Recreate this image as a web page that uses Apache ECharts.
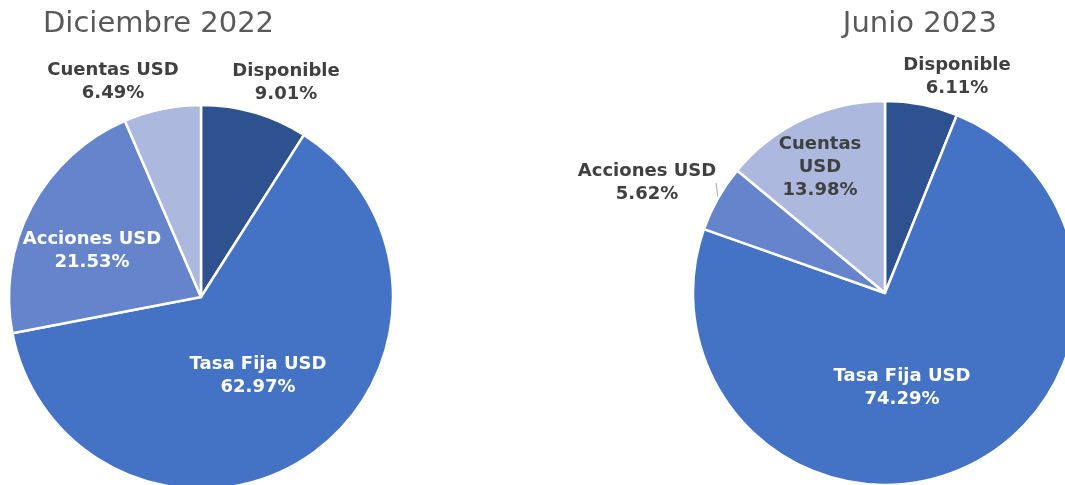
<!DOCTYPE html>
<html><head><meta charset="utf-8">
<script src="https://cdn.jsdelivr.net/npm/echarts@6/dist/echarts.min.js"></script>
<style>html,body{margin:0;padding:0;background:#fff}#c{width:1065px;height:485px}</style>
</head><body><div id="c"></div>
<script>
const categories = ['Disponible', 'Tasa Fija USD', 'Acciones USD', 'Cuentas USD'];
const labelTexts = ['Disponible', 'Tasa Fija USD', 'Acciones USD', 'Cuentas USD'];
const labelTextsJun = ['Disponible', 'Tasa Fija USD', 'Acciones USD', 'Cuentas\nUSD'];
const dec2022 = [9.01, 62.97, 21.53, 6.49];
const jun2023 = [6.11, 74.29, 5.62, 13.98];
const titles = ['Diciembre 2022', 'Junio 2023'];

const colors = ['#2E5190', '#4472C4', '#6584CB', '#ACB8DE'];
const dark = '#404040';
// label anchor points (center of label block) per series, per slice
const labelPos = [
  [[286, 83], [258, 376], [92, 251], [113, 82]],
  [[957, 77], [902, 388], [647, 183], [820, 167]]
];
const labelColors = [
  [dark, '#fff', '#fff', dark],
  [dark, '#fff', dark, dark]
];
// which slice shows a short leader line
const leader = [[false, false, false, false], [false, false, true, false]];

function buildData(values, texts, si) {
  return values.map((v, i) => ({
    name: categories[i],
    value: v,
    itemStyle: { color: colors[i] },
    label: {
      formatter: texts[i] + '\n' + v.toFixed(2) + '%',
      color: labelColors[si][i],
      position: leader[si][i] ? 'outside' : 'inside'
    },
    labelLine: { show: leader[si][i], length: 4, length2: 0, lineStyle: { color: '#A6A6A6', width: 1 } }
  }));
}

const chart = echarts.init(document.getElementById('c'), null, { renderer: 'canvas' });
function mkSeries(values, texts, si, center) {
  return {
    type: 'pie',
    center: center,
    radius: 192,
    startAngle: 90,
    clockwise: true,
    animation: false,
    avoidLabelOverlap: false,
    itemStyle: { borderColor: '#fff', borderWidth: 2.5 },
    label: {
      show: true,
      position: 'inside',
      fontFamily: 'DejaVu Sans',
      fontWeight: 'bold',
      fontSize: 18,
      lineHeight: 23,
      align: 'center'
    },
    labelLine: { show: false },
    emphasis: { disabled: true },
    labelLayout: function (p) {
      const pos = labelPos[si][p.dataIndex];
      return { x: pos[0], y: pos[1], align: 'center', verticalAlign: 'middle' };
    },
    data: buildData(values, texts, si)
  };
}
chart.setOption({
  animation: false,
  title: [
    { text: titles[0], left: 38, top: 5, textStyle: { fontFamily: 'DejaVu Sans', fontWeight: 'normal', fontSize: 29, color: '#595959' } },
    { text: titles[1], right: 63, top: 5, textStyle: { fontFamily: 'DejaVu Sans', fontWeight: 'normal', fontSize: 29, color: '#595959' } }
  ],
  series: [
    mkSeries(dec2022, labelTexts, 0, [201, 297]),
    mkSeries(jun2023, labelTextsJun, 1, [885, 293])
  ]
});
</script></body></html>
